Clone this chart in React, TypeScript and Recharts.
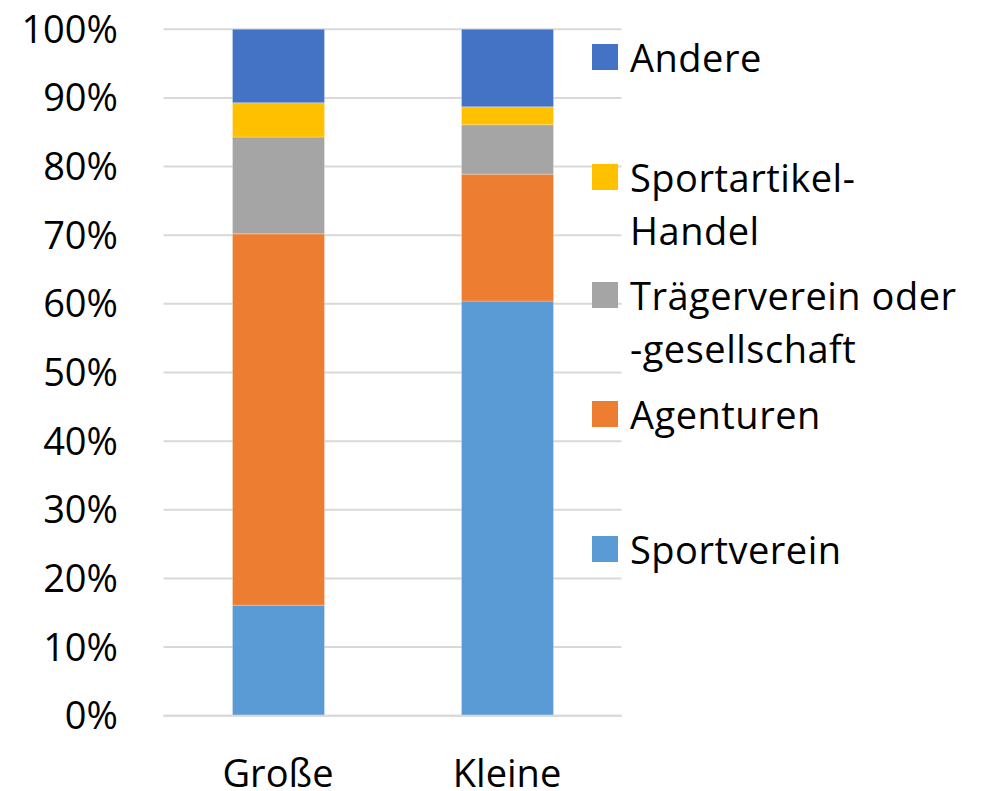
import React from "react";
import { BarChart, Bar, XAxis, YAxis, CartesianGrid, Legend } from "recharts";

const categories = ["Große", "Kleine"];
const sportverein = [16.1, 60.4];
const agenturen = [54.1, 18.5];
const traegerverein = [14.1, 7.2];
const sportartikel = [5.0, 2.6];
const andere = [10.7, 11.3];
const yTicks = [0, 10, 20, 30, 40, 50, 60, 70, 80, 90, 100];

const seriesDefs = [
  { key: "sportverein", name: "Sportverein", lines: ["Sportverein"], color: "#5B9BD5", values: sportverein },
  { key: "agenturen", name: "Agenturen", lines: ["Agenturen"], color: "#ED7D31", values: agenturen },
  { key: "traeger", name: "Trägerverein oder -gesellschaft", lines: ["Trägerverein oder", "-gesellschaft"], color: "#A5A5A5", values: traegerverein },
  { key: "sportartikel", name: "Sportartikel-Handel", lines: ["Sportartikel-", "Handel"], color: "#FFC000", values: sportartikel },
  { key: "andere", name: "Andere", lines: ["Andere"], color: "#4472C4", values: andere },
];

const data = categories.map((c, i) => {
  const row: Record<string, string | number> = { category: c };
  seriesDefs.forEach((s) => {
    row[s.key] = s.values[i];
  });
  return row;
});

const FONT = "'Open Sans', Lato, sans-serif";
const FONT_SIZE = 38;

const legendTops = [30.5, 150.5, 268.5, 387.5, 522.5];

const CustomLegend = () => {
  const items = [...seriesDefs].reverse();
  return (
    <div style={{ position: "relative", width: 395, height: 600, fontFamily: FONT, fontSize: FONT_SIZE, color: "#000" }}>
      {items.map((s, i) => (
        <div key={s.key} style={{ position: "absolute", left: 0, top: legendTops[i], width: 395 }}>
          <div style={{ position: "absolute", left: 0, top: 13.5, width: 26, height: 26, background: s.color }} />
          <div style={{ position: "absolute", left: 38, top: 0, lineHeight: "53px", whiteSpace: "nowrap", letterSpacing: 0.5 }}>
            {s.lines.map((l, j) => (
              <div key={j}>{l}</div>
            ))}
          </div>
        </div>
      ))}
    </div>
  );
};

export default function App() {
  return (
    <div style={{ position: "absolute", left: 0, top: 0, width: 987, height: 791, background: "#fff" }}>
      <BarChart
        width={987}
        height={791}
        data={data}
        margin={{ top: 29.3, right: 365.5, bottom: 0, left: 0 }}
        barSize={92}
      >
        <CartesianGrid vertical={false} stroke="#d9d9d9" strokeWidth={2} />
        <XAxis
          dataKey="category"
          axisLine={{ stroke: "#d9d9d9", strokeWidth: 2 }}
          tickLine={false}
          tickSize={0}
          tickMargin={44.5}
          tick={{ fill: "#000", fontSize: FONT_SIZE, fontFamily: FONT }}
          height={75.3}
        />
        <YAxis
          domain={[0, 100]}
          ticks={yTicks}
          tickFormatter={(v: number) => `${v}%`}
          axisLine={false}
          tickLine={false}
          tickSize={0}
          tickMargin={45.5}
          width={163.5}
          interval={0}
          tick={{ fill: "#000", fontSize: FONT_SIZE, fontFamily: FONT }}
        />
        <Legend
          content={<CustomLegend />}
          layout="vertical"
          align="center"
          verticalAlign="middle"
          wrapperStyle={{ position: "absolute", left: 592, top: 0, width: 395 }}
        />
        {seriesDefs.map((s) => (
          <Bar
            key={s.key}
            dataKey={s.key}
            name={s.name}
            stackId="a"
            fill={s.color}
            stroke="#ffffff"
            strokeOpacity={0.25}
            strokeWidth={1}
            isAnimationActive={false}
          />
        ))}
      </BarChart>
    </div>
  );
}
